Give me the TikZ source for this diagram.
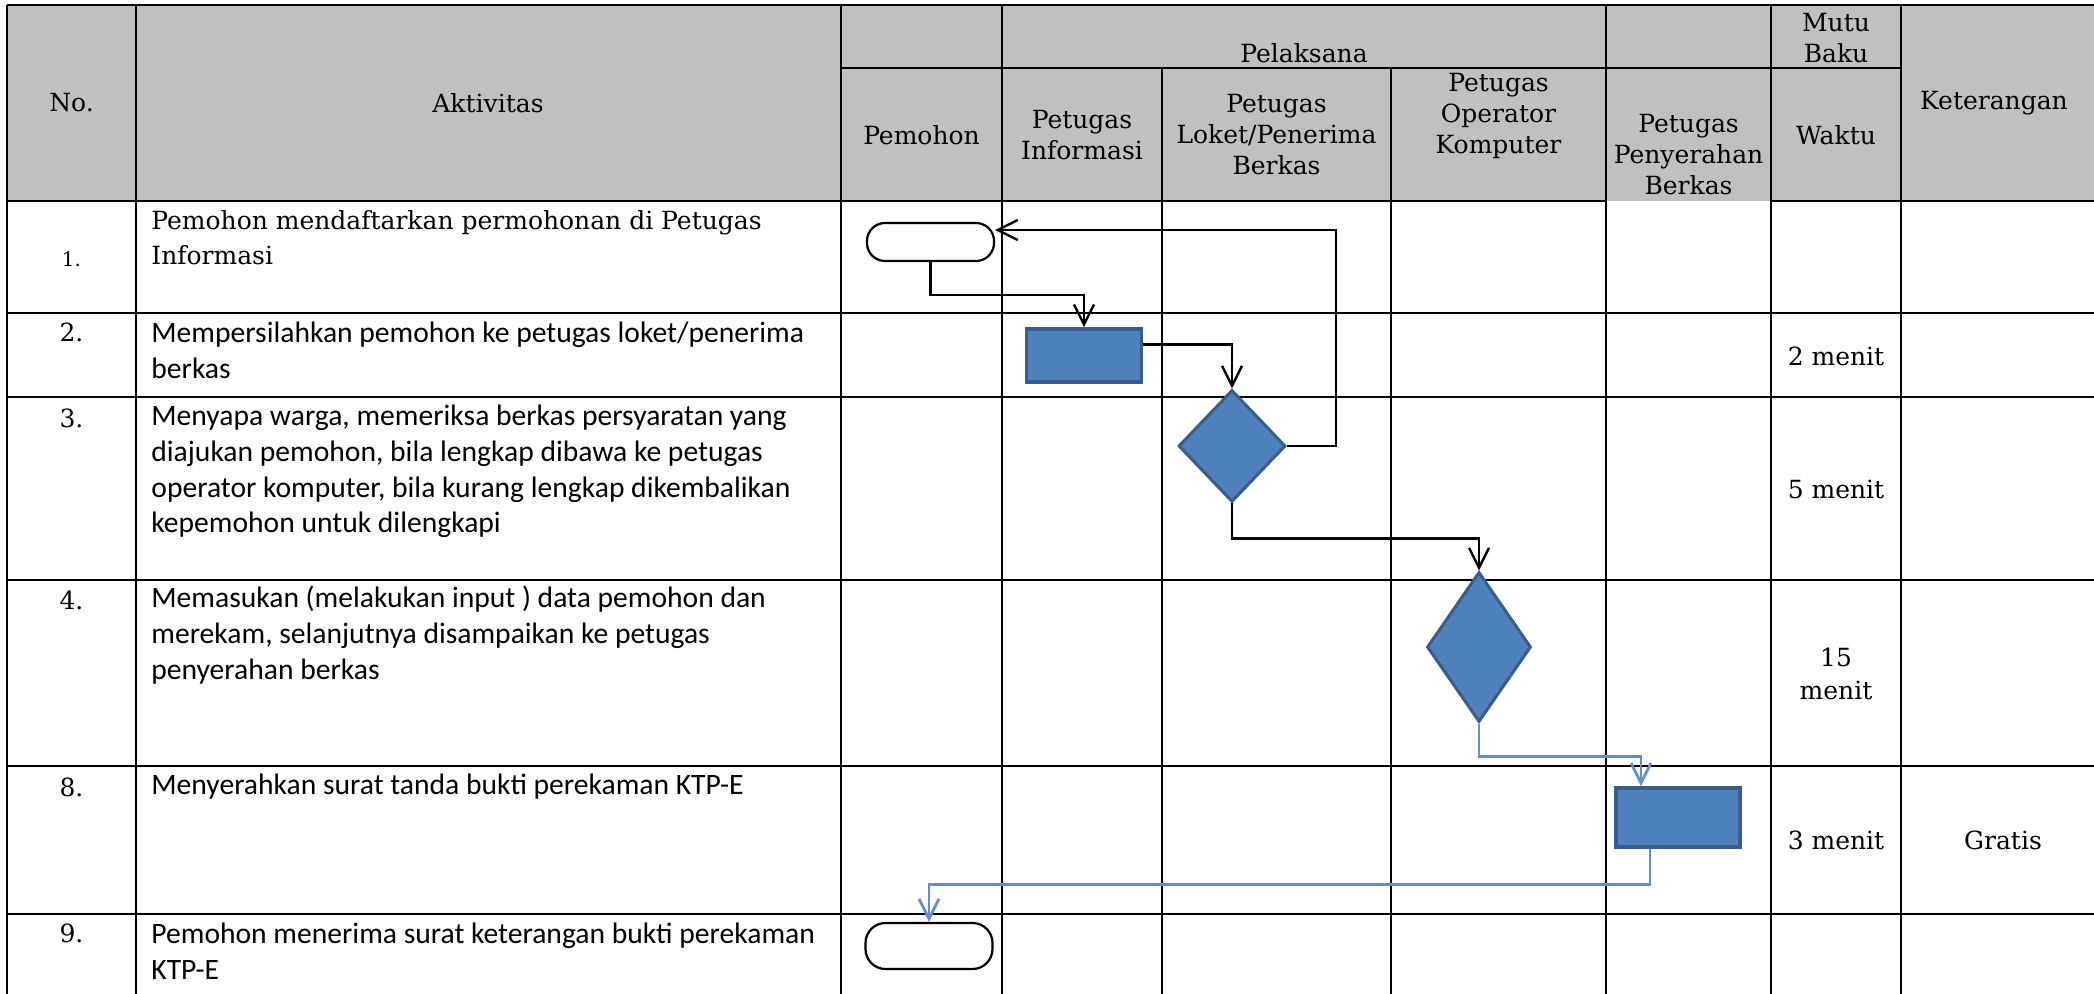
\documentclass[tikz,border=0pt]{standalone}
\usepackage{fontspec}
\setmainfont{DejaVu Serif}
\newfontfamily\calibri{Carlito}
\usetikzlibrary{arrows.meta,shapes.geometric}
\definecolor{hdrgrey}{RGB}{192,192,192}
\definecolor{boxblue}{RGB}{79,129,189}
\definecolor{boxedge}{RGB}{56,93,138}
\definecolor{linkblue}{RGB}{96,143,205}
\begin{document}
\begin{tikzpicture}[x=0.5pt,y=-0.5pt,
    grid/.style={line width=1.2pt},
    hdr/.style={font=\fontsize{12.5pt}{15.5pt}\selectfont,align=center,inner sep=0pt},
    num/.style={font=\fontsize{12.5pt}{15pt}\selectfont,inner sep=0pt},
    act/.style={font=\calibri\fontsize{14.8pt}{17.8pt}\selectfont,align=left,anchor=west,inner sep=0pt},
    term/.style={draw,line width=1.1pt,fill=white,rounded corners=9pt,minimum width=63.5pt,inner sep=0pt},
    proc/.style={draw=boxedge,fill=boxblue,line width=1.8pt,inner sep=0pt},
    decide/.style={diamond,draw=boxedge,fill=boxblue,line width=1.5pt,inner sep=0pt},
    flow/.style={line width=1.2pt,-{Straight Barb[length=10pt,width=10pt]}},
    bflow/.style={flow,line width=1.4pt,draw=linkblue}]
  \useasboundingbox (0,0) rectangle (2094,994);
  \clip (0,0) rectangle (2094,994);

  % table
  \fill[hdrgrey] (7,5) rectangle (2094,201);
  \draw[grid] (7,5) -- (2094,5);
  \draw[grid] (841,68) -- (1901,68);
  \draw[grid] (7,201) -- (1606,201) (1771,201) -- (2094,201);
  \foreach \yy in {313,397,580,766,914}
    \draw[grid] (7,\yy) -- (2094,\yy);
  \foreach \xx in {7,136,841,1002,1606,1771,1901}
    \draw[grid] (\xx,5) -- (\xx,994);
  \foreach \xx in {1162,1391}
    \draw[grid] (\xx,68) -- (\xx,994);

  % header
  \node[hdr] (hNo) at (71.5,103) {No.};
  \node[hdr] (hAkt) at (488,103) {Aktivitas};
  \node[hdr] (hPem) at (921.5,135) {Pemohon};
  \node[hdr] (hPel) at (1304,53) {Pelaksana};
  \node[hdr] (hInf) at (1082,135) {Petugas\\Informasi};
  \node[hdr] (hLok) at (1276.5,135) {Petugas\\Loket/Penerima\\Berkas};
  \node[hdr] (hOpr) at (1498.5,116) {Petugas\\Operator\\Komputer};
  \node[hdr] (hPny) at (1688.5,155) {Petugas\\Penyerahan\\Berkas};
  \node[hdr] (hMutu) at (1836,38) {Mutu\\Baku};
  \node[hdr] (hWkt) at (1836,135) {Waktu};
  \node[hdr] (hKet) at (1994,103) {Keterangan};

  % nomor
  \node[num,font=\fontsize{10pt}{12pt}\selectfont] (N1) at (71.5,259) {1.};
  \node[num] (N2) at (71.5,332.5) {2.};
  \node[num] (N3) at (71.5,418) {3.};
  \node[num] (N4) at (71.5,600) {4.};
  \node[num] (N5) at (71.5,787) {8.};
  \node[num] (N6) at (71.5,933.5) {9.};

  % aktivitas
  \node[act,font=\fontsize{12.5pt}{17.5pt}\selectfont] (A1) at (151,237.5) {Pemohon mendaftarkan permohonan di Petugas\\Informasi};
  \node[act] (A2) at (151,350.5) {Mempersilahkan pemohon ke petugas loket/penerima\\berkas};
  \node[act] (A3) at (151,471.5) {Menyapa warga, memeriksa berkas persyaratan yang\\diajukan pemohon, bila lengkap dibawa ke petugas\\operator komputer, bila kurang lengkap dikembalikan\\kepemohon untuk dilengkapi};
  \node[act] (A4) at (151,635) {Memasukan (melakukan input ) data pemohon dan\\merekam, selanjutnya disampaikan ke petugas\\penyerahan berkas};
  \node[act] (A5) at (151,787) {Menyerahkan surat tanda bukti perekaman KTP-E};
  \node[act] (A6) at (151,951.5) {Pemohon menerima surat keterangan bukti perekaman\\KTP-E};

  % waktu dan keterangan
  \node[num] (W2) at (1836,356.5) {2 menit};
  \node[num] (W3) at (1836,489) {5 menit};
  \node[num,align=center,font=\fontsize{12.5pt}{16.5pt}\selectfont] (W4) at (1836,674) {15\\menit};
  \node[num] (W5) at (1836,840) {3 menit};
  \node[num] (K5) at (2003,840) {Gratis};

  % bagan alir
  \node[term,minimum height=19pt] (T1) at (930.5,242) {};
  \node[proc,minimum width=57.5pt,minimum height=26.5pt] (R1) at (1084,355.5) {};
  \node[decide,minimum width=53.5pt,minimum height=56pt] (D1) at (1232,446) {};
  \node[decide,minimum width=52pt,minimum height=75pt] (D2) at (1479,647) {};
  \node[proc,minimum width=62pt,minimum height=29.5pt] (R2) at (1678,817.5) {};
  \node[term,minimum height=23pt,rounded corners=10pt] (T2) at (929,946) {};

  \draw[flow] (T1.south) -- ++(0,33) -| (R1.north);
  \draw[flow] ([yshift=5.5pt]R1.east) -| (D1.north);
  \draw[flow] (D1.east) -- ++(49,0) |- ([yshift=6pt]T1.east);
  \draw[flow] (D1.south) -- ++(0,35) -| (D2.north);
  \draw[bflow] (D2.south) -- ++(0,33) -| ([xshift=-18.5pt]R2.north);
  \draw[bflow] ([xshift=-14pt]R2.south) -- ++(0,36) -| (T2.north);
\end{tikzpicture}
\end{document}
